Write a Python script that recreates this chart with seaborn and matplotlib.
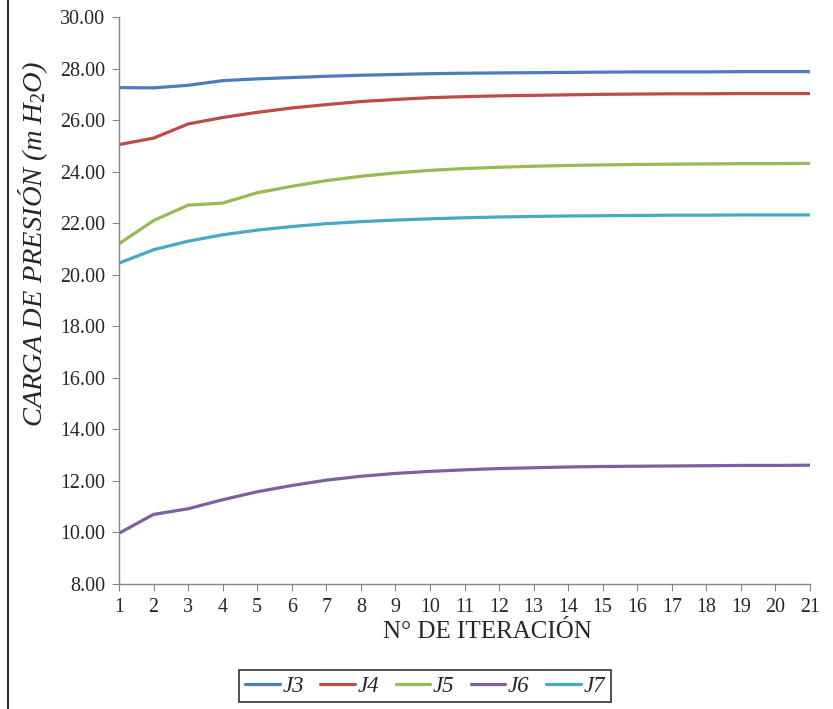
import numpy as np
import pandas as pd
import seaborn as sns
import matplotlib
matplotlib.use("Agg")
import matplotlib.pyplot as plt
from matplotlib.lines import Line2D

iterations = list(range(1, 22))
J3 = [27.26, 27.25, 27.35, 27.53, 27.60, 27.65, 27.70, 27.74, 27.77, 27.80, 27.82,
      27.83, 27.84, 27.85, 27.86, 27.87, 27.87, 27.87, 27.88, 27.88, 27.88]
J4 = [25.05, 25.30, 25.85, 26.10, 26.30, 26.47, 26.60, 26.72, 26.80, 26.87, 26.91,
      26.94, 26.96, 26.98, 27.00, 27.01, 27.02, 27.02, 27.03, 27.03, 27.03]
J5 = [21.20, 22.10, 22.70, 22.78, 23.18, 23.43, 23.65, 23.82, 23.95, 24.05, 24.12,
      24.17, 24.21, 24.24, 24.26, 24.28, 24.29, 24.30, 24.31, 24.31, 24.32]
J6 = [9.97, 10.70, 10.92, 11.27, 11.58, 11.82, 12.03, 12.18, 12.29, 12.37, 12.43,
      12.48, 12.51, 12.54, 12.56, 12.57, 12.58, 12.59, 12.60, 12.60, 12.61]
J7 = [20.45, 20.97, 21.30, 21.55, 21.73, 21.87, 21.98, 22.06, 22.12, 22.17, 22.21,
      22.24, 22.26, 22.28, 22.29, 22.30, 22.31, 22.31, 22.32, 22.32, 22.32]
series_names = ["J3", "J4", "J5", "J6", "J7"]
colors = ["#4a7ebb", "#be4b48", "#98b954", "#7d60a0", "#46aac5"]

df = pd.DataFrame({"iter": iterations, "J3": J3, "J4": J4, "J5": J5, "J6": J6, "J7": J7})
long = df.melt(id_vars="iter", var_name="serie", value_name="carga")

sns.set_style("white")
plt.rcParams["font.family"] = ["Liberation Serif", "DejaVu Serif"]
plt.rcParams["mathtext.fontset"] = "custom"
plt.rcParams["mathtext.it"] = "Liberation Serif:italic"
plt.rcParams["mathtext.rm"] = "Liberation Serif"

fig = plt.figure(figsize=(8.33, 7.09), dpi=100)
ax = fig.add_axes([119 / 833, 1 - 584 / 709, (810 - 119) / 833, (584 - 17) / 709])

sns.lineplot(data=long, x="iter", y="carga", hue="serie", palette=colors,
             hue_order=series_names, linewidth=2.3, ax=ax, legend=False)

ax.set_xlim(1, 21)
ax.set_ylim(8, 30)
ax.set_xticks(iterations)
ax.set_yticks(np.arange(8, 30.1, 2))
ax.set_yticklabels([f"{v:.2f}" for v in np.arange(8, 30.1, 2)])
ax.tick_params(axis="both", labelsize=14.4, length=5, direction="out", color="#868686",
               bottom=True, left=True)
ax.tick_params(axis="x", pad=5)
ax.tick_params(axis="y", pad=5)
for s in ["top", "right"]:
    ax.spines[s].set_visible(False)
for s in ["left", "bottom"]:
    ax.spines[s].set_color("#868686")
    ax.spines[s].set_linewidth(1.0)

ax.set_xlabel("N° DE ITERACIÓN", fontsize=18)
ax.set_ylabel(r"CARGA DE PRESIÓN ($m\ H_2O$)", fontsize=20.5, style="italic")
ax.xaxis.set_label_coords(0.533, -0.065)
ax.yaxis.set_label_coords(-0.1, 0.6)

handles = [Line2D([0], [0], color=c, lw=2.3) for c in colors]
leg = fig.legend(handles, series_names, loc="center", bbox_to_anchor=(425 / 833, 1 - 686 / 709),
                 ncol=5, frameon=True, fancybox=False, edgecolor="black",
                 prop={"family": "Liberation Serif", "style": "italic", "size": 16.5},
                 handlelength=1.5, handletextpad=0.12, columnspacing=0.72, borderpad=0.25,
                 borderaxespad=0)
leg.get_frame().set_linewidth(1.2)

fig.add_artist(Line2D([8 / 833, 8 / 833], [0, 1], color="black", lw=1.2, transform=fig.transFigure))

fig.savefig("out.png", dpi=100)
